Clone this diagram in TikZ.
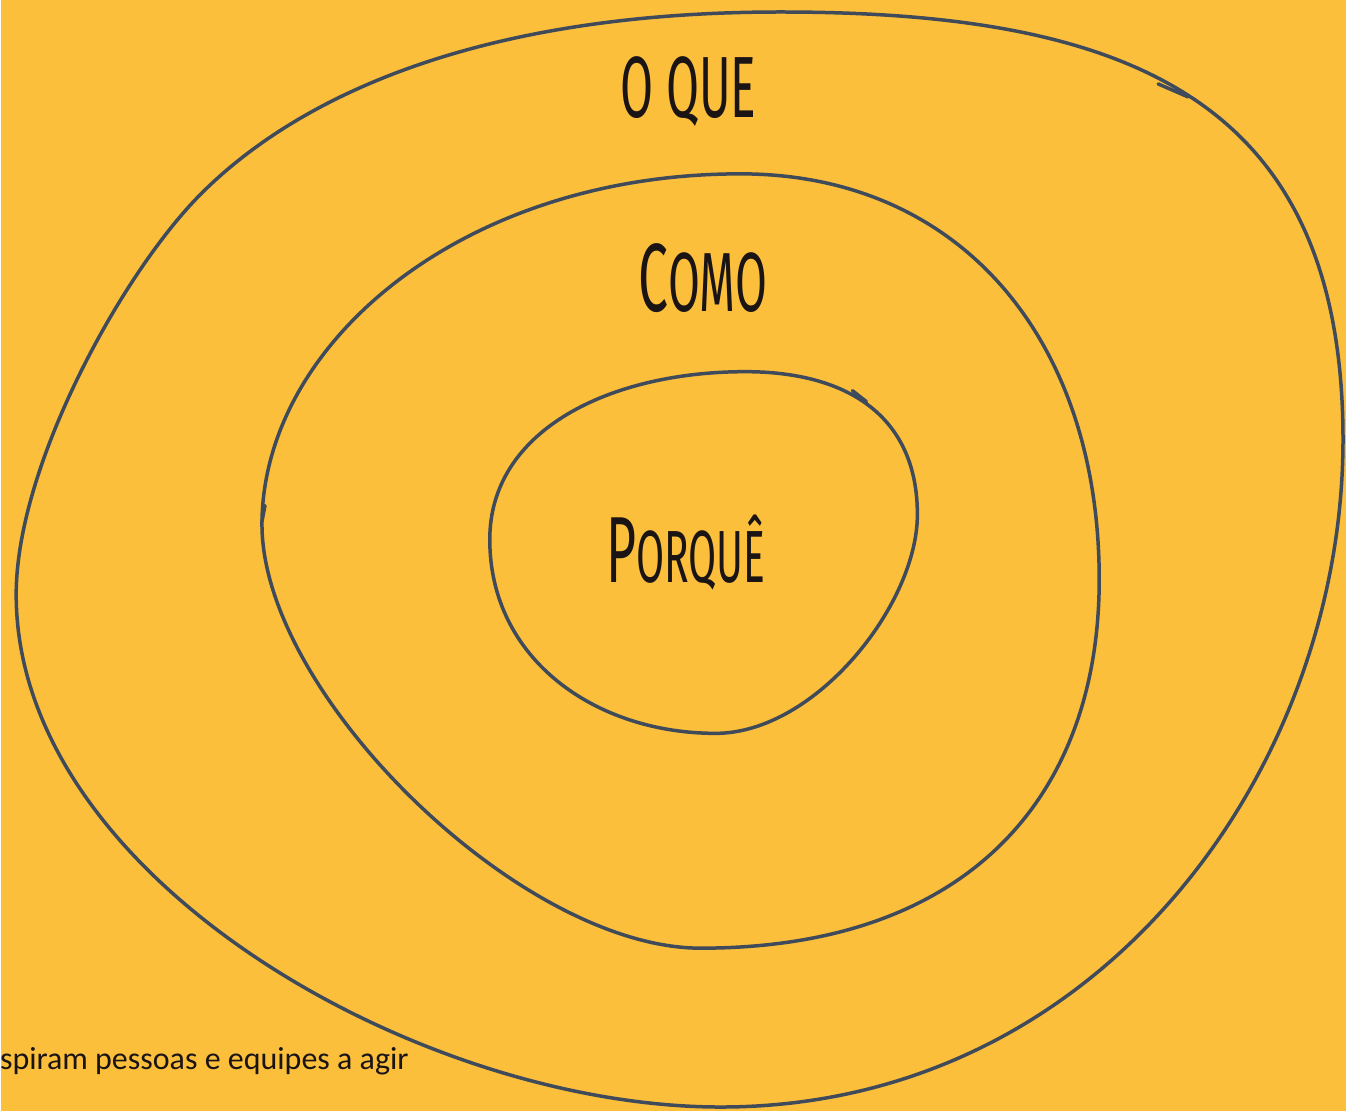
\documentclass[tikz,border=0pt]{standalone}
\usepackage{fontspec}
\usepackage{tikz}
\usetikzlibrary{positioning}
\newfontfamily\handfont[FakeStretch=0.55]{Fira Sans}
\newfontfamily\notefont{Carlito}
\definecolor{fundo}{HTML}{FBBF3C}
\definecolor{traco}{HTML}{3F4A5A}
\definecolor{tinta}{HTML}{1A1414}
\tikzset{
	ring/.style = {draw=traco, line width=3.5pt, line join=round,
		line cap=round},% circulo desenhado a mao
	lbl_c/.style = {inner sep=0pt, anchor=base, text=tinta,
		font=\handfont},% titulo dos circulos
	lbl_n/.style = {inner sep=0pt, anchor=base east, text=tinta,
		font=\notefont\fontsize{32}{36}\selectfont}% nota de rodape
}

\begin{document}
\begin{tikzpicture}[x=1pt,y=-1pt]
\fill[fundo] (0,0) rectangle (1346,1112);
% circulo de fora
\draw[ring] (780,12) .. controls (1130,12) and (1343,100) .. (1343,440)
	.. controls (1343,770) and (1100,1108) .. (720,1108)
	.. controls (420,1108) and (15,880) .. (15,595)
	.. controls (15,465) and (122,272) .. (200,194)
	.. controls (299,95) and (480,12) .. (780,12) -- cycle;
\draw[ring] (1158,84) -- (1188,97);
% circulo do meio
\draw[ring] (740,174) .. controls (960,174) and (1099,340) .. (1099,580)
	.. controls (1099,795) and (970,949) .. (700,949)
	.. controls (520,949) and (261,695) .. (261,525)
	.. controls (261,345) and (460,174) .. (740,174) -- cycle;
\draw[ring] (261,522) -- (264,506);
% circulo de dentro
\draw[ring] (745,372) .. controls (845,372) and (917,415) .. (917,515)
	.. controls (917,605) and (815,734) .. (715,734)
	.. controls (595,734) and (489,660) .. (489,540)
	.. controls (489,430) and (610,372) .. (745,372) -- cycle;
\draw[ring] (852,391) -- (866,402);
\node[lbl_c] (oque) at (688,118) {\fontsize{87}{90}\selectfont O QUE};
\node[lbl_c] (como) at (702,312) {{\fontsize{97}{100}\selectfont C}{\fontsize{84}{90}\selectfont OMO}};
\node[lbl_c] (porque) at (685,583) {{\fontsize{94}{100}\selectfont P}{\fontsize{74}{80}\selectfont ORQUÊ}};
\node[lbl_n] (nota) at (408,1070) {spiram pessoas e equipes a agir};
\end{tikzpicture}
\end{document}
